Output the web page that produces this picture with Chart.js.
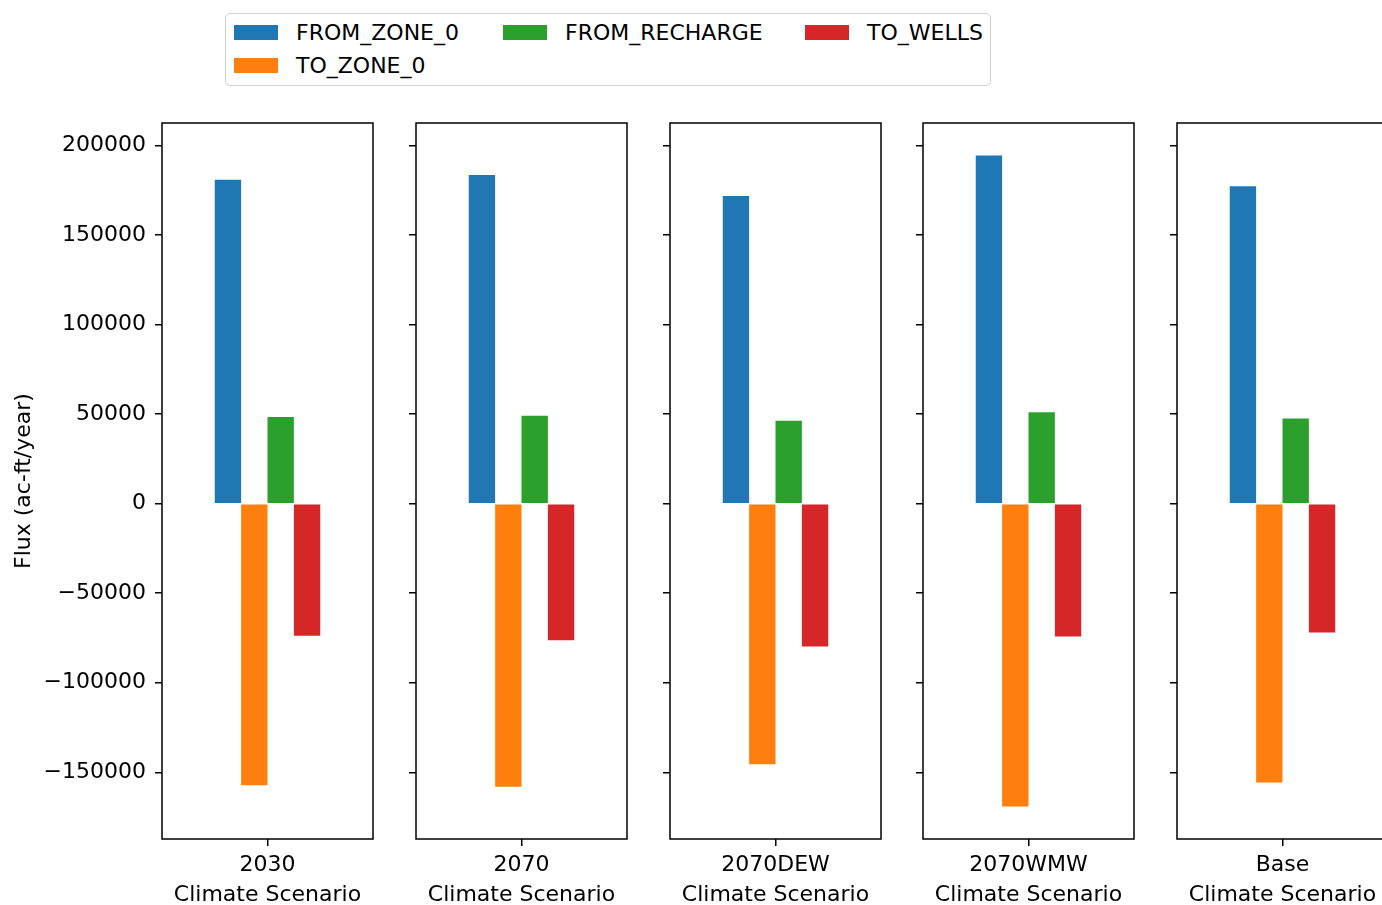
<!DOCTYPE html>
<html>
<head>
<meta charset="utf-8">
<title>Flux by Climate Scenario</title>
<script src="https://cdn.jsdelivr.net/npm/chart.js@4/dist/chart.umd.min.js"></script>
<style>
  html, body { margin: 0; padding: 0; background: #fff; overflow: hidden; }
  body { width: 1382px; height: 905px; position: relative; font-family: 'DejaVu Sans', sans-serif; }
  .panel { position: absolute; top: 0; }
  #legend {
    position: absolute; left: 225px; top: 13px; width: 766px; height: 73px;
    box-sizing: border-box; border: 1.5px solid #d0d0d0; border-radius: 5px; background: #fff;
  }
  .lg-item { position: absolute; height: 26px; }
  .lg-swatch { position: absolute; left: 0; top: 5px; width: 44px; height: 15px; }
  .lg-text { position: absolute; left: 62px; top: 0; font-size: 22px; line-height: 26px; color: #000; white-space: nowrap; }
</style>
</head>
<body>
<div id="legend"></div>
<script>
// Scenarios (one panel each) and the four water-budget terms, in ac-ft/year
const scenarios   = ['2030', '2070', '2070DEW', '2070WMW', 'Base'];
const seriesNames = ['FROM_ZONE_0', 'TO_ZONE_0', 'FROM_RECHARGE', 'TO_WELLS'];
const fromZone0    = [181000, 183600, 171900, 194500, 177300];
const toZone0      = [-157200, -158100, -145500, -169100, -155700];
const fromRecharge = [48500, 49200, 46400, 51100, 47600];
const toWells      = [-73800, -76200, -79700, -74100, -71900];
const yTickValues  = [-150000, -100000, -50000, 0, 50000, 100000, 150000, 200000];
const seriesColors = ['#1f77b4', '#ff7f0e', '#2ca02c', '#d62728'];
const seriesValues = [fromZone0, toZone0, fromRecharge, toWells];

// Shared y range: data extent padded by 5% on each side
const allVals = [].concat(...seriesValues, [0]);
const dMin = Math.min(...allVals), dMax = Math.max(...allVals);
const margin = (dMax - dMin) * 0.05;
const yMin = dMin - margin, yMax = dMax + margin;

const FONT = { family: "'DejaVu Sans'", size: 22 };
Chart.defaults.font.family = FONT.family;
Chart.defaults.font.size = FONT.size;
Chart.defaults.color = '#000';

// Geometry of the panel row
const PANEL_W = 211, PANEL_STEP = 253.8, FIRST_LEFT = 162;
const PLOT_TOP = 123, PLOT_BOTTOM = 839, CANVAS_H = 920;

// Full rectangular frame around each plot area
const framePlugin = {
  id: 'frame',
  afterDraw(chart) {
    const { ctx, chartArea: a } = chart;
    ctx.save();
    ctx.strokeStyle = '#000';
    ctx.lineWidth = 1.5;
    ctx.strokeRect(a.left, a.top, a.right - a.left, a.bottom - a.top);
    ctx.restore();
  }
};

const fmt = v => (v < 0 ? '\u2212' + Math.abs(v) : String(v));

scenarios.forEach((name, i) => {
  const first = i === 0;
  const plotLeft = FIRST_LEFT + i * PANEL_STEP;
  const axisW = first ? plotLeft : 20;
  const canvasLeft = plotLeft - axisW;
  const canvasW = axisW + PANEL_W + 5;

  const canvas = document.createElement('canvas');
  canvas.className = 'panel';
  canvas.width = canvasW;
  canvas.height = CANVAS_H;
  canvas.style.left = canvasLeft + 'px';
  canvas.style.width = canvasW + 'px';
  canvas.style.height = CANVAS_H + 'px';
  document.body.appendChild(canvas);

  new Chart(canvas, {
    type: 'bar',
    data: {
      labels: [name],
      datasets: seriesNames.map((s, k) => ({
        label: s,
        data: [seriesValues[k][i]],
        backgroundColor: seriesColors[k],
        borderWidth: 0
      }))
    },
    options: {
      responsive: false,
      animation: false,
      devicePixelRatio: 1,
      categoryPercentage: 0.5,
      barPercentage: 1.0,
      layout: { padding: { top: PLOT_TOP, right: 5, bottom: 0, left: 0 } },
      plugins: { legend: { display: false }, tooltip: { enabled: false } },
      scales: {
        x: {
          type: 'category',
          offset: true,
          border: { display: false },
          grid: { offset: false, drawOnChartArea: false, drawTicks: true, tickLength: 7, color: '#000', lineWidth: 1.5 },
          ticks: { padding: 6, maxRotation: 0, autoSkip: false, font: FONT, color: '#000' },
          title: { display: true, text: 'Climate Scenario', font: FONT, color: '#000', padding: { top: 0, bottom: 12 } },
          afterFit(scale) { scale.height = CANVAS_H - PLOT_BOTTOM; }
        },
        y: {
          type: 'linear',
          min: yMin,
          max: yMax,
          border: { display: false },
          grid: { drawOnChartArea: false, drawTicks: true, tickLength: 7, color: '#000', lineWidth: 1.5 },
          afterBuildTicks(scale) { scale.ticks = yTickValues.map(v => ({ value: v })); },
          ticks: {
            display: first,
            autoSkip: false,
            padding: 9,
            font: FONT,
            color: '#000',
            callback: v => fmt(v)
          },
          title: {
            display: first,
            text: 'Flux (ac-ft/year)',
            font: FONT,
            color: '#000',
            padding: { top: 11, bottom: 0 }
          },
          afterFit(scale) { scale.width = axisW; }
        }
      }
    },
    plugins: [framePlugin]
  });
});

// Legend laid out in three columns, filled column by column
const legend = document.getElementById('legend');
const legendSlots = [
  { x: 8, y: 6 },    // column 1, row 1
  { x: 8, y: 39 },   // column 1, row 2
  { x: 277, y: 6 },  // column 2, row 1
  { x: 579, y: 6 }   // column 3, row 1
];
seriesNames.forEach((s, k) => {
  const item = document.createElement('div');
  item.className = 'lg-item';
  item.style.left = legendSlots[k].x + 'px';
  item.style.top = legendSlots[k].y + 'px';
  const sw = document.createElement('div');
  sw.className = 'lg-swatch';
  sw.style.background = seriesColors[k];
  const tx = document.createElement('div');
  tx.className = 'lg-text';
  tx.textContent = s;
  item.appendChild(sw);
  item.appendChild(tx);
  legend.appendChild(item);
});
</script>
</body>
</html>
